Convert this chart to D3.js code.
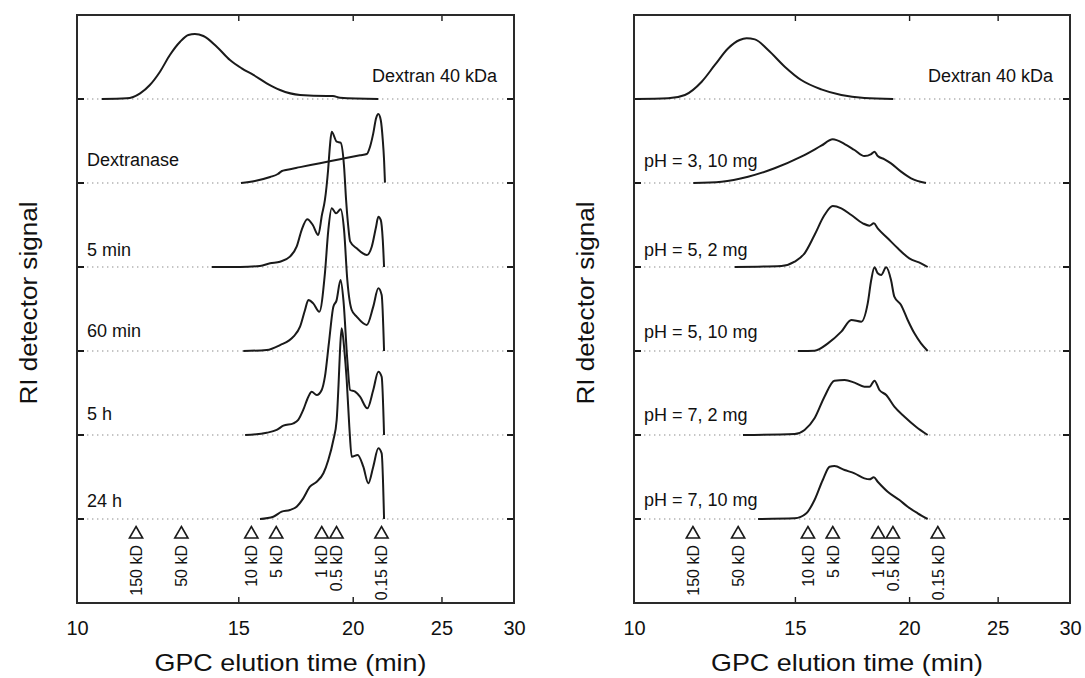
<!DOCTYPE html>
<html>
<head>
<meta charset="utf-8">
<script src="https://cdn.jsdelivr.net/npm/d3@7"></script>
<style>
  body { margin: 0; background: #fff; }
  svg { display: block; }
  text { font-family: "Liberation Sans", Arial, Helvetica, sans-serif; fill: #111; }
</style>
</head>
<body>
<svg id="chart" width="1085" height="678"></svg>
<script>
// ---- axis ticks and molecular-weight standards ----
const xTicks = [10, 15, 20, 25, 30];
const topTicks = [15, 20, 25];
const standardTimes = [11.6, 13.0, 15.5, 16.5, 18.5, 19.2, 21.5];
const standardLabels = ["150 kD", "50 kD", "10 kD", "5 kD", "1 kD", "0.5 kD", "0.15 kD"];

// ---- left panel: digestion time course, [elution time (min), signal] ----
const dextranLeft = [[10.64,0],[11.33,0.008],[11.72,0.068],[12.01,0.167],[12.32,0.325],[12.63,0.524],[12.96,0.682],[13.23,0.762],[13.45,0.774],[13.74,0.750],[14.21,0.623],[14.69,0.464],[15.13,0.365],[15.58,0.286],[16.11,0.187],[16.66,0.107],[17.52,0.048],[18.74,0.036],[19.03,0.036],[19.37,0.015],[21.33,0]];
const dextranase = [[15.10,0],[15.64,0.024],[16.25,0.071],[16.57,0.107],[16.74,0.143],[16.91,0.155],[17.52,0.189],[18.42,0.235],[19.37,0.283],[20.37,0.330],[20.72,0.345],[20.89,0.432],[21.06,0.591],[21.21,0.770],[21.33,0.821],[21.46,0.750],[21.57,0.512],[21.64,0.274],[21.69,0.004]];
const min5 = [[14.03,0],[15.07,0],[15.84,0.012],[16.25,0.044],[16.66,0.063],[17.08,0.123],[17.37,0.242],[17.59,0.440],[17.84,0.568],[18.09,0.500],[18.34,0.381],[18.51,0.619],[18.65,0.798],[18.80,1.155],[18.89,1.452],[18.97,1.611],[19.21,1.492],[19.40,1.480],[19.57,1.194],[19.67,0.798],[19.77,0.5],[19.87,0.305],[20.20,0.222],[20.72,0.143],[20.98,0.242],[21.21,0.480],[21.33,0.599],[21.46,0.560],[21.57,0.321],[21.64,0]];
const min60 = [[15.19,0],[16.11,0.012],[16.66,0.071],[17.23,0.170],[17.52,0.289],[17.74,0.488],[17.89,0.607],[18.11,0.567],[18.39,0.468],[18.65,0.925],[18.81,1.440],[18.97,1.699],[19.18,1.639],[19.40,1.687],[19.57,1.440],[19.73,0.845],[19.95,0.488],[20.20,0.409],[20.72,0.310],[21.06,0.528],[21.33,0.746],[21.51,0.667],[21.64,0]];
const h5 = [[15.26,0],[16.11,0.027],[16.52,0.060],[16.80,0.111],[17.23,0.139],[17.44,0.179],[17.66,0.298],[17.89,0.456],[18.04,0.515],[18.27,0.476],[18.50,0.536],[18.65,0.694],[18.84,1.1],[19.05,1.528],[19.20,1.6],[19.40,1.845],[19.54,1.6],[19.73,0.893],[19.87,0.536],[20.12,0.516],[20.37,0.456],[20.75,0.317],[21.06,0.536],[21.33,0.754],[21.51,0.694],[21.64,0]];
const h24 = [[15.84,0],[16.38,0.027],[16.73,0.087],[17.08,0.107],[17.37,0.147],[17.66,0.246],[17.96,0.385],[18.27,0.444],[18.58,0.544],[18.81,0.702],[19.05,0.940],[19.21,1.179],[19.30,1.6],[19.37,2.0],[19.45,2.27],[19.53,2.15],[19.57,2.05],[19.70,1.655],[19.83,1.10],[19.95,0.742],[20.25,0.762],[20.54,0.623],[20.80,0.425],[21.06,0.623],[21.33,0.841],[21.51,0.782],[21.64,0]];
const leftLabels = ["Dextran 40 kDa", "Dextranase", "5 min", "60 min", "5 h", "24 h"];
const leftLabelLift = [17, 17, 11, 14, 15, 12];

// ---- right panel: pH and enzyme amount, [elution time (min), signal] ----
const dextranRight = [[10.03,0],[10.90,0.008],[11.37,0.048],[11.86,0.206],[12.26,0.405],[12.68,0.604],[13.05,0.702],[13.28,0.722],[13.56,0.710],[14.02,0.583],[14.62,0.385],[15.24,0.226],[16.03,0.115],[16.86,0.048],[17.87,0.012],[19.22,0]];
const pH3mg10 = [[11.61,0],[12.47,0.016],[13.33,0.075],[14.25,0.175],[15.24,0.313],[16.03,0.444],[16.50,0.520],[17.00,0.464],[17.43,0.393],[17.87,0.321],[18.18,0.345],[18.33,0.373],[18.48,0.321],[18.80,0.282],[19.11,0.234],[19.60,0.135],[20.10,0.056],[20.87,0]];
const pH5mg2 = [[12.89,0],[14.50,0.012],[14.99,0.063],[15.37,0.163],[15.76,0.381],[16.16,0.619],[16.50,0.726],[16.86,0.698],[17.29,0.619],[17.80,0.520],[18.10,0.492],[18.30,0.520],[18.48,0.461],[18.95,0.342],[19.44,0.222],[20.01,0.103],[20.61,0.044],[20.96,0]];
const pH5mg10 = [[15.11,0],[15.76,0.004],[16.30,0.091],[16.86,0.230],[17.29,0.369],[17.73,0.349],[18.02,0.567],[18.18,0.845],[18.33,0.996],[18.48,0.925],[18.64,0.905],[18.88,0.996],[19.11,0.845],[19.27,0.647],[19.60,0.548],[19.93,0.369],[20.27,0.210],[20.61,0.091],[20.96,0]];
const pH7mg2 = [[13.16,0],[14.99,0.012],[15.37,0.060],[15.76,0.199],[16.16,0.456],[16.57,0.647],[17.00,0.655],[17.43,0.623],[17.87,0.575],[18.10,0.575],[18.33,0.647],[18.56,0.536],[18.88,0.476],[19.27,0.337],[19.77,0.218],[20.35,0.099],[20.96,0]];
const pH7mg10 = [[13.67,0],[14.99,0.008],[15.44,0.068],[15.76,0.226],[16.09,0.464],[16.37,0.623],[16.57,0.631],[17.00,0.583],[17.43,0.544],[17.87,0.484],[18.10,0.472],[18.30,0.496],[18.48,0.444],[18.95,0.325],[19.52,0.226],[19.93,0.146],[20.44,0.068],[20.96,0]];
const rightLabels = ["Dextran 40 kDa", "pH = 3, 10 mg", "pH = 5, 2 mg", "pH = 5, 10 mg", "pH = 7, 2 mg", "pH = 7, 10 mg"];
const rightLabelLift = [17, 16, 11, 13, 14, 13];

const svg = d3.select("#chart");
const plotTop = 15, plotBottom = 603;
// stacked traces: each trace sits on its own integer baseline, 6 at the top down to 1
const y = d3.scaleLinear().domain([0, 7]).range([plotBottom, plotTop]);
const ink = "#1a1a1a";

function drawPanel(cfg) {
  const x = d3.scaleLog().domain([10, 30]).range([cfg.left, cfg.right]);
  const g = svg.append("g");
  const n = cfg.series.length;
  const offsets = d3.range(n).map(i => n - i);

  // dotted baselines
  g.selectAll("line.base").data(offsets).join("line")
    .attr("x1", cfg.left).attr("x2", cfg.right)
    .attr("y1", d => y(d)).attr("y2", d => y(d))
    .attr("stroke", "#8c8c8c").attr("stroke-width", 1.2)
    .attr("stroke-dasharray", "1.4,3.6");

  // chromatograms
  cfg.series.forEach((s, i) => {
    const off = offsets[i];
    const line = d3.line().curve(d3.curveMonotoneX)
      .x(d => x(d[0])).y(d => y(off + d[1]));
    g.append("path").datum(s).attr("d", line)
      .attr("fill", "none").attr("stroke", ink).attr("stroke-width", 2)
      .attr("stroke-linejoin", "round");
  });

  // trace labels
  cfg.labels.forEach((t, i) => {
    const first = i === 0;
    g.append("text")
      .attr("x", first ? cfg.right - 17 : cfg.left + 10)
      .attr("y", y(offsets[i]) - cfg.lift[i])
      .attr("text-anchor", first ? "end" : "start")
      .attr("font-size", 18)
      .text(t);
  });

  // molecular-weight standards
  const std = g.selectAll("g.std").data(standardTimes).join("g")
    .attr("transform", d => `translate(${x(d)},0)`);
  std.append("path")
    .attr("d", "M0,526.5L6.6,538L-6.6,538Z")
    .attr("fill", "#fff").attr("stroke", ink).attr("stroke-width", 1.6)
    .attr("stroke-linejoin", "miter");
  std.append("text")
    .attr("transform", "translate(0,545) rotate(-90)")
    .attr("text-anchor", "end").attr("dy", "0.36em")
    .attr("font-size", 16)
    .text((d, i) => standardLabels[i]);

  // axes
  const bottomAxis = d3.axisBottom(x).tickValues(xTicks).tickFormat(d3.format("d"))
    .tickSizeInner(-6).tickSizeOuter(0).tickPadding(18);
  const ax = g.append("g").attr("transform", `translate(0,${plotBottom})`).call(bottomAxis);
  ax.select(".domain").remove();
  ax.selectAll(".tick line").attr("stroke", ink).attr("stroke-width", 1.4);
  ax.selectAll(".tick text").attr("font-size", 20)
    .attr("font-family", "'Liberation Sans', Arial, sans-serif").attr("fill", "#111");
  ax.selectAll(".tick").filter(d => d === 10 || d === 30).select("line").remove();

  const topAxis = d3.axisTop(x).tickValues(topTicks).tickFormat("")
    .tickSizeInner(-6).tickSizeOuter(0);
  const at = g.append("g").attr("transform", `translate(0,${plotTop})`).call(topAxis);
  at.select(".domain").remove();
  at.selectAll(".tick line").attr("stroke", ink).attr("stroke-width", 1.4);

  // side ticks at each baseline
  g.selectAll("line.lt").data(offsets).join("line")
    .attr("x1", cfg.left).attr("x2", cfg.left + 7)
    .attr("y1", d => y(d)).attr("y2", d => y(d))
    .attr("stroke", ink).attr("stroke-width", 2);
  g.selectAll("line.rt").data(offsets).join("line")
    .attr("x1", cfg.right - 7).attr("x2", cfg.right)
    .attr("y1", d => y(d)).attr("y2", d => y(d))
    .attr("stroke", ink).attr("stroke-width", 2);

  // frame
  g.append("rect")
    .attr("x", cfg.left).attr("y", plotTop)
    .attr("width", cfg.right - cfg.left).attr("height", plotBottom - plotTop)
    .attr("fill", "none").attr("stroke", "#2a2a2a").attr("stroke-width", 2);

  // axis titles
  g.append("text")
    .attr("transform", `translate(${cfg.left - 40},${(plotTop + plotBottom) / 2 - 6}) rotate(-90)`)
    .attr("text-anchor", "middle").attr("font-size", 23)
    .attr("textLength", 203).attr("lengthAdjust", "spacingAndGlyphs")
    .text("RI detector signal");
  g.append("text")
    .attr("x", (cfg.left + cfg.right) / 2 - 5).attr("y", 671)
    .attr("text-anchor", "middle").attr("font-size", 24)
    .attr("textLength", 272).attr("lengthAdjust", "spacingAndGlyphs")
    .text("GPC elution time (min)");
}

drawPanel({
  left: 77, right: 514,
  series: [dextranLeft, dextranase, min5, min60, h5, h24],
  labels: leftLabels, lift: leftLabelLift
});
drawPanel({
  left: 634, right: 1070,
  series: [dextranRight, pH3mg10, pH5mg2, pH5mg10, pH7mg2, pH7mg10],
  labels: rightLabels, lift: rightLabelLift
});
</script>
</body>
</html>
